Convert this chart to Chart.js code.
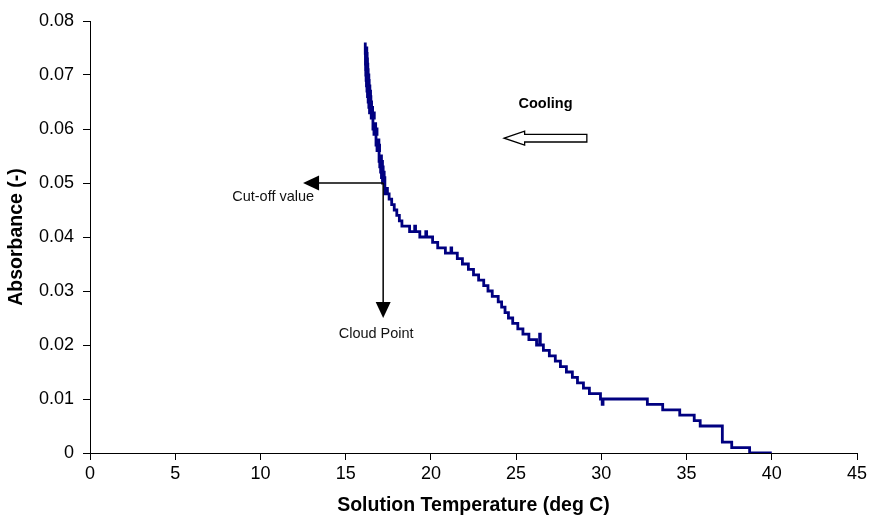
<!DOCTYPE html>
<html>
<head>
<meta charset="utf-8">
<script src="https://cdn.jsdelivr.net/npm/chart.js@4/dist/chart.umd.min.js"></script>
<style>
  html, body { margin: 0; padding: 0; background: #fff; }
  #wrap { width: 873px; height: 525px; position: relative; }
</style>
</head>
<body>
<div id="wrap"><canvas id="c" width="873" height="525"></canvas></div>
<script>
// Solution temperature (deg C), recorded while cooling (time order)
const temperature = [
  40.0, 38.7, 37.65, 37.1, 35.8, 35.45, 34.6, 33.6, 32.7,
  30.1, 30.05, 29.95, 29.3, 28.95, 28.6, 28.3, 27.95, 27.6, 27.3, 26.95,
  26.6, 26.42, 26.38, 26.2, 25.75, 25.4, 25.1, 24.8, 24.55, 24.35, 24.15,
  23.95, 23.6, 23.35, 23.1, 22.8, 22.5, 22.2, 21.85, 21.55, 21.22, 21.18,
  20.85, 20.4, 20.1, 19.75, 19.7, 19.35, 19.1, 19.05, 18.75, 18.3, 18.15,
  18.0, 17.85, 17.7, 17.55, 17.45, 17.38,
  17.30, 17.20, 17.30, 17.16, 17.26, 17.10, 17.20, 17.05, 17.16, 17.00,
  17.10, 16.96, 16.88, 16.99, 16.84, 16.95, 16.78, 16.72, 16.84, 16.66,
  16.76, 16.60, 16.54, 16.68, 16.50, 16.44, 16.58, 16.40, 16.52, 16.36,
  16.48, 16.32, 16.46, 16.28, 16.42, 16.25, 16.38, 16.22, 16.36, 16.20,
  16.32, 16.18, 16.30, 16.17, 16.28, 16.16, 16.26, 16.16, 16.24, 16.15
];
// Absorbance (-)
const absorbance = [
  0.000, 0.001, 0.002, 0.005, 0.006, 0.007, 0.008, 0.009, 0.010,
  0.009, 0.010, 0.011, 0.012, 0.013, 0.014, 0.015, 0.016, 0.017, 0.018, 0.019,
  0.020, 0.022, 0.020, 0.021, 0.022, 0.023, 0.024, 0.025, 0.026, 0.027, 0.028,
  0.029, 0.030, 0.031, 0.032, 0.033, 0.034, 0.035, 0.036, 0.037, 0.038, 0.037,
  0.038, 0.039, 0.040, 0.041, 0.040, 0.041, 0.042, 0.041, 0.042, 0.043, 0.044,
  0.045, 0.046, 0.047, 0.048, 0.049, 0.048,
  0.050, 0.051, 0.050, 0.052, 0.051, 0.053, 0.052, 0.054, 0.053, 0.055,
  0.054, 0.056, 0.057, 0.056, 0.058, 0.057, 0.059, 0.060, 0.059, 0.061,
  0.060, 0.062, 0.063, 0.062, 0.063, 0.064, 0.063, 0.065, 0.064, 0.066,
  0.065, 0.067, 0.066, 0.068, 0.067, 0.069, 0.068, 0.070, 0.069, 0.071,
  0.070, 0.072, 0.071, 0.073, 0.072, 0.074, 0.073, 0.075, 0.074, 0.076
];
const xTickLabels = ['0','5','10','15','20','25','30','35','40','45'];
const yTickLabels = ['0','0.01','0.02','0.03','0.04','0.05','0.06','0.07','0.08'];

// annotation anchors (data units)
const cutOff = { x: 17.2, y: 0.05, xEnd: 12.5, yEnd: 0.025 };
const coolingArrow = { tip: 24.3, headBase: 25.5, tail: 29.15, y: 0.0583 };

const FONT = "'Liberation Sans', Arial, sans-serif";

const annot = {
  id: 'annot',
  afterDatasetsDraw(chart) {
    const { ctx, scales: { x, y } } = chart;
    ctx.save();
    ctx.strokeStyle = '#000';
    ctx.fillStyle = '#000';
    ctx.lineWidth = 1.5;
    const px = x.getPixelForValue(cutOff.x);
    const py = y.getPixelForValue(cutOff.y);
    const hx = x.getPixelForValue(cutOff.xEnd);
    const vy = y.getPixelForValue(cutOff.yEnd);
    // horizontal arrow
    ctx.beginPath(); ctx.moveTo(px, py); ctx.lineTo(hx + 14, py); ctx.stroke();
    ctx.beginPath(); ctx.moveTo(hx, py); ctx.lineTo(hx + 16, py - 7.5); ctx.lineTo(hx + 16, py + 7.5); ctx.closePath(); ctx.fill();
    // vertical arrow
    ctx.beginPath(); ctx.moveTo(px, py); ctx.lineTo(px, vy - 14); ctx.stroke();
    ctx.beginPath(); ctx.moveTo(px, vy); ctx.lineTo(px - 7.5, vy - 16); ctx.lineTo(px + 7.5, vy - 16); ctx.closePath(); ctx.fill();

    // texts
    ctx.font = '14.5px ' + FONT;
    ctx.fillStyle = '#111';
    ctx.textAlign = 'center';
    ctx.textBaseline = 'middle';
    ctx.fillText('Cut-off value', px - 110, py + 14);
    ctx.fillText('Cloud Point', px - 7, vy + 16);

    // cooling hollow arrow
    const tx = x.getPixelForValue(coolingArrow.tip);
    const bx = x.getPixelForValue(coolingArrow.headBase);
    const ex = x.getPixelForValue(coolingArrow.tail);
    const cy = y.getPixelForValue(coolingArrow.y);
    ctx.beginPath();
    ctx.moveTo(tx, cy);
    ctx.lineTo(bx, cy - 7);
    ctx.lineTo(bx, cy - 3.8);
    ctx.lineTo(ex, cy - 3.8);
    ctx.lineTo(ex, cy + 3.8);
    ctx.lineTo(bx, cy + 3.8);
    ctx.lineTo(bx, cy + 7);
    ctx.closePath();
    ctx.fillStyle = '#fff';
    ctx.fill();
    ctx.lineWidth = 1.3;
    ctx.strokeStyle = '#000';
    ctx.stroke();
    ctx.fillStyle = '#000';
    ctx.font = 'bold 14.5px ' + FONT;
    ctx.fillText('Cooling', (tx + ex) / 2, cy - 34);
    ctx.restore();
  }
};

new Chart(document.getElementById('c'), {
  type: 'scatter',
  data: {
    datasets: [{
      data: temperature.map((t, i) => ({ x: t, y: absorbance[i] })),
      showLine: true,
      stepped: true,
      borderColor: '#000080',
      borderWidth: 2.8,
      pointRadius: 0,
      fill: false
    }]
  },
  options: {
    responsive: false,
    animation: false,
    devicePixelRatio: 1,
    layout: { padding: { top: 21, right: 16, left: 0, bottom: 0 } },
    plugins: { legend: { display: false }, tooltip: { enabled: false } },
    scales: {
      x: {
        type: 'linear', min: 0, max: 45,
        afterFit(s) { s.height = 72; },
        ticks: {
          stepSize: 5, color: '#000', padding: 3,
          font: { family: FONT, size: 18 },
          maxRotation: 0,
          callback: (v) => xTickLabels[Math.round(v / 5)]
        },
        grid: { drawOnChartArea: false, drawTicks: true, tickLength: 7, color: '#000' },
        border: { display: true, color: '#000', width: 1 },
        title: { display: true, text: 'Solution Temperature (deg C)', color: '#000',
                 font: { family: FONT, size: 19.5, weight: 'bold' }, padding: { top: 0, bottom: 8 } }
      },
      y: {
        type: 'linear', min: 0, max: 0.08,
        afterFit(s) { s.width = 90; },
        ticks: {
          stepSize: 0.01, color: '#000', padding: 9,
          font: { family: FONT, size: 18 },
          callback: (v) => yTickLabels[Math.round(v / 0.01)]
        },
        grid: { drawOnChartArea: false, drawTicks: true, tickLength: 7, color: '#000' },
        border: { display: true, color: '#000', width: 1 },
        title: { display: true, text: 'Absorbance (-)', color: '#000',
                 font: { family: FONT, size: 19.5, weight: 'bold' }, padding: { top: 5, bottom: 0 } }
      }
    }
  },
  plugins: [annot]
});
</script>
</body>
</html>
